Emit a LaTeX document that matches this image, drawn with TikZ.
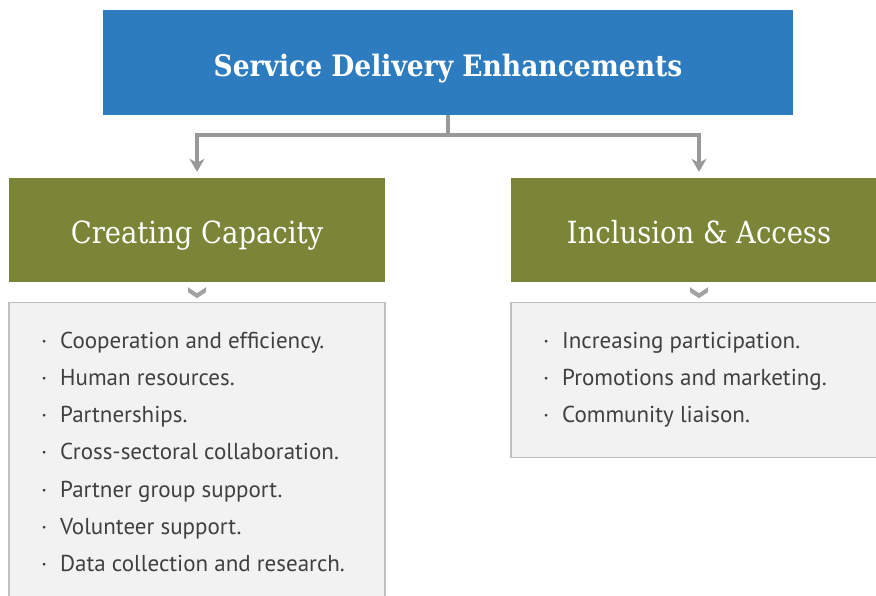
\documentclass[tikz,border=0pt]{standalone}
\usepackage{fontspec}
\setmainfont{DejaVu Serif Condensed}
\setsansfont{PT Sans}
\usetikzlibrary{arrows.meta,positioning,calc}
\definecolor{sblue}{HTML}{2E7CC0}
\definecolor{sgreen}{HTML}{7A8537}
\definecolor{sgrey}{HTML}{999999}
\definecolor{sfill}{HTML}{F2F2F2}
\definecolor{sline}{HTML}{BFBFBF}
\definecolor{stext}{HTML}{404040}
\tikzset{
  headbox/.style={fill=sblue, text=white, minimum width=690pt, minimum height=105pt,
    text height=28pt, text depth=0pt, font=\bfseries\fontsize{29.5}{34}\selectfont},
  catbox/.style={fill=sgreen, text=white, minimum width=376pt, minimum height=104pt,
    text height=26pt, text depth=0pt, font=\fontsize{30.5}{36}\selectfont},
  listbox/.style={fill=sfill, draw=sline, line width=1.2pt, minimum width=376pt, anchor=north},
  listitem/.style={anchor=base west, text=stext, inner sep=0pt,
    font=\sffamily\fontsize{23}{27}\selectfont},
  link/.style={draw=sgrey, line width=4pt, shorten >=6pt,
    -{Stealth[length=13pt, width=15pt, inset=4pt]}},
}

\begin{document}
\begin{tikzpicture}[x=1pt, y=-1pt]
  \useasboundingbox (0,0) rectangle (876,595);
  \clip (0,0) rectangle (876,595);

  % Top box
  \node[headbox] (head) at (448,62.5) {Service Delivery Enhancements};

  % Category boxes
  \node[catbox] (capacity) at (197,230) {Creating Capacity};
  \node[catbox] (access) at (699,230) {Inclusion \& Access};

  % List boxes
  \node[listbox, minimum height=330pt] (capacitylist) at (197,302) {};
  \node[listbox, minimum height=155pt] (accesslist) at (699,302) {};

  % Connectors
  \draw[link] (head.south) -- ++(0,20) -| (capacity.north);
  \draw[link] (head.south) -- ++(0,20) -| (access.north);

  % Chevrons under the category boxes
  \foreach \n in {capacity,access} {
    \fill[sgrey!90] ($(\n.south)+(-9,5)$) -- ++(9,6) -- ++(9,-6) --
      ++(0,5) -- ++(-9,6) -- ++(-9,-6) -- cycle;
  }

  % List items
  \foreach \t [count=\i] in {Cooperation and efficiency., Human resources.,
      Partnerships., Cross-sectoral collaboration., Partner group support.,
      Volunteer support., Data collection and research.} {
    \node[listitem] (cap-\i) at (41,{348+(\i-1)*37.3}) {\makebox[19pt][l]{·}\t};
  }
  \foreach \t [count=\i] in {Increasing participation., Promotions and marketing.,
      Community liaison.} {
    \node[listitem] (acc-\i) at (543,{348+(\i-1)*37.3}) {\makebox[19pt][l]{·}\t};
  }
\end{tikzpicture}
\end{document}
